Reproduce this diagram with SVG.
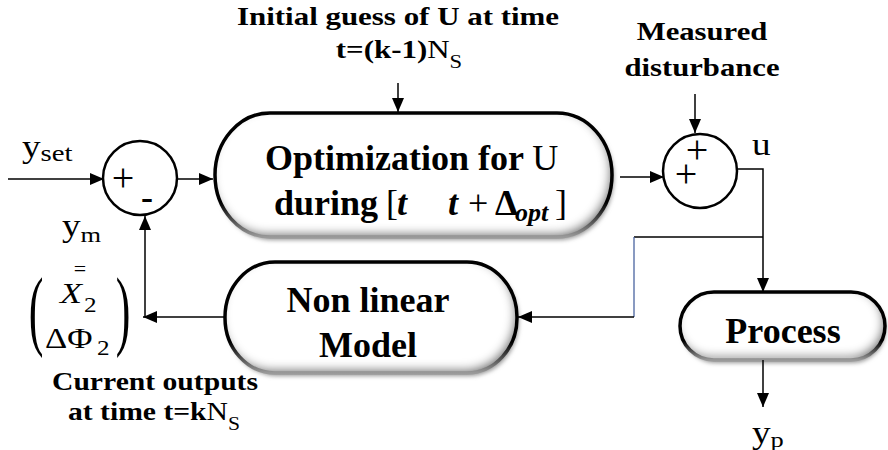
<svg xmlns="http://www.w3.org/2000/svg" width="888" height="450" viewBox="0 0 888 450">
<style>
.lbl{font-family:"Liberation Serif","Times New Roman",serif;font-weight:bold;font-size:26px;fill:#000}
.reg{font-weight:normal}
.box{font-family:"Liberation Serif","Times New Roman",serif;font-weight:bold;font-size:36px;fill:#000}
.var{font-family:"Liberation Serif","Times New Roman",serif;font-size:31px;fill:#000}
.sym{font-family:"Liberation Serif","Times New Roman",serif;font-size:40px;fill:#000}
.pill{fill:#fff;filter:url(#inner)}
.edge{fill:none;stroke:url(#edge);stroke-width:3.5}
.shadow{fill:#9a9a9a;filter:url(#drop)}
.sum{fill:#fff;stroke:#000;stroke-width:2.5}
.ln{fill:none;stroke:#000;stroke-width:1.5}
</style>
<defs>
<marker id="arr" markerUnits="userSpaceOnUse" markerWidth="14" markerHeight="12" refX="14" refY="6" orient="auto">
<path d="M0,0 L14,6 L0,12 z" fill="#000"/>
</marker>
<linearGradient id="edge" x1="0" y1="0" x2="0" y2="1">
<stop offset="0" stop-color="#000"/>
<stop offset="0.72" stop-color="#000"/>
<stop offset="1" stop-color="#9a9a9a"/>
</linearGradient>
<filter id="inner" x="-5%" y="-10%" width="110%" height="120%">
<feFlood flood-color="#707070" result="f"/>
<feComposite in="f" in2="SourceAlpha" operator="out" result="o"/>
<feGaussianBlur in="o" stdDeviation="5" result="b"/>
<feOffset in="b" dx="-3" dy="-4" result="ob"/>
<feComposite in="ob" in2="SourceAlpha" operator="in" result="is"/>
<feMerge><feMergeNode in="SourceGraphic"/><feMergeNode in="is"/></feMerge>
</filter>
<filter id="drop" x="-5%" y="-10%" width="110%" height="130%">
<feGaussianBlur stdDeviation="2"/>
</filter>
</defs>

<g id="labels">
<text class="lbl" transform="translate(398,25) scale(1.19,1)" text-anchor="middle">Initial guess of U at time</text>
<text class="lbl" transform="translate(399,58) scale(1.19,1)" text-anchor="middle">t=(k-1)<tspan class="reg">N</tspan><tspan class="reg" font-size="19" dy="10">S</tspan></text>
<text class="lbl" transform="translate(702,40) scale(1.18,1)" text-anchor="middle">Measured</text>
<text class="lbl" transform="translate(702,76) scale(1.18,1)" text-anchor="middle">disturbance</text>
<text class="lbl" transform="translate(155,390) scale(1.14,1)" text-anchor="middle">Current outputs</text>
<text class="lbl" transform="translate(154,420) scale(1.14,1)" text-anchor="middle">at time t=k<tspan class="reg">N</tspan><tspan class="reg" font-size="19" dy="10">S</tspan></text>
<text class="var" transform="translate(22,157) scale(1.2,1)">y<tspan font-size="24" dy="4">set</tspan></text>
<text class="var" transform="translate(62,236) scale(1.2,1)">y<tspan font-size="22" dy="6">m</tspan></text>
<text class="var" transform="translate(752,155) scale(1.2,1)">u</text>
<text class="var" transform="translate(752,443) scale(1.2,1)">y<tspan font-size="22" dy="4">p</tspan></text>
</g>

<g id="matrix">
<text class="var" style="font-size:88px" transform="translate(36,339) scale(0.5,1)" text-anchor="middle">(</text>
<text class="var" style="font-size:88px" transform="translate(123,339) scale(0.5,1)" text-anchor="middle">)</text>
<text class="var" style="font-size:22px" transform="translate(80,276)" text-anchor="middle">=</text>
<text class="var" style="font-size:30px;font-style:italic" transform="translate(60,303) scale(1.2,1)">X</text>
<text class="var" style="font-size:21px" transform="translate(84,312) scale(1.2,1)">2</text>
<text class="var" style="font-size:30px" transform="translate(45,348) scale(1.15,1)">ΔΦ</text>
<text class="var" style="font-size:21px" transform="translate(97,355) scale(1.2,1)">2</text>
</g>

<g id="sum1">
<circle class="sum" cx="140" cy="178" r="37"/>
<text class="sym" x="123" y="191" text-anchor="middle">+</text>
<text class="lbl" style="font-size:36px" x="147" y="209" text-anchor="middle">-</text>
</g>

<g id="sum2">
<circle class="sum" cx="700" cy="171" r="37"/>
<text class="sym" x="697" y="163" text-anchor="middle">+</text>
<text class="sym" x="686" y="187" text-anchor="middle">+</text>
</g>

<g id="optimization">
<rect class="shadow" x="217" y="116" width="397" height="124" rx="55" ry="62"/>
<rect class="pill" x="215" y="113" width="397" height="124" rx="55" ry="62"/>
<rect class="edge" x="215" y="113" width="397" height="124" rx="55" ry="62"/>
<text class="box" x="265" y="170">Optimization for <tspan class="reg">U</tspan></text>
<text class="box" y="215"><tspan x="274">during</tspan><tspan x="386" class="reg">[</tspan><tspan x="397" font-style="italic">t</tspan><tspan x="448" font-style="italic">t</tspan><tspan x="468" class="reg">+</tspan><tspan x="495">Δ</tspan><tspan x="515" font-style="italic" font-size="26" dy="6">opt</tspan><tspan x="555" class="reg" dy="-6">]</tspan></text>
</g>

<g id="model">
<rect class="shadow" x="227" y="265" width="292" height="111" rx="50" ry="55"/>
<rect class="pill" x="225" y="262" width="292" height="111" rx="50" ry="55"/>
<rect class="edge" x="225" y="262" width="292" height="111" rx="50" ry="55"/>
<text class="box" x="368" y="312" text-anchor="middle">Non linear</text>
<text class="box" x="368" y="357" text-anchor="middle">Model</text>
</g>

<g id="process">
<rect class="shadow" x="682" y="295" width="204" height="68" rx="34" ry="34"/>
<rect class="pill" x="680" y="292" width="205" height="68" rx="34" ry="34"/>
<rect class="edge" x="680" y="292" width="205" height="68" rx="34" ry="34"/>
<text class="box" x="783" y="343" text-anchor="middle">Process</text>
</g>

<g id="connectors">
<path class="ln" d="M8,179 H104" marker-end="url(#arr)"/>
<path class="ln" d="M177,179 H213" marker-end="url(#arr)"/>
<path class="ln" d="M398,83 V112" marker-end="url(#arr)"/>
<path class="ln" d="M620,177 H664" marker-end="url(#arr)"/>
<path class="ln" d="M695,94 V133" marker-end="url(#arr)"/>
<path class="ln" d="M737,169 H763 V292" marker-end="url(#arr)"/>
<path class="ln" d="M763,237 H634" stroke="#333"/>
<path d="M634,237 V317" fill="none" stroke="#4a64a0" stroke-width="1.3"/>
<path class="ln" d="M634,317 H518" marker-end="url(#arr)"/>
<path class="ln" d="M225,317 H143" marker-end="url(#arr)"/>
<path class="ln" d="M145,317 V216" marker-end="url(#arr)"/>
<path class="ln" d="M763,360 V407" marker-end="url(#arr)"/>
</g>
</svg>
